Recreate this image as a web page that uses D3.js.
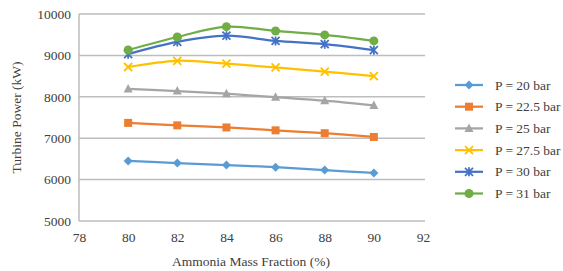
<!DOCTYPE html>
<html>
<head>
<meta charset="utf-8">
<script src="https://cdn.jsdelivr.net/npm/d3@7"></script>
<style>
  body { margin: 0; background: #fff; }
</style>
</head>
<body>
<div id="chart"></div>
<script>
var fractions = [80, 82, 84, 86, 88, 90];
var seriesNames = ["P = 20 bar", "P = 22.5 bar", "P = 25 bar", "P = 27.5 bar", "P = 30 bar", "P = 31 bar"];
var p20 = [6450, 6400, 6350, 6300, 6230, 6160];
var p225 = [7370, 7310, 7260, 7190, 7120, 7030];
var p25 = [8190, 8140, 8075, 7990, 7905, 7790];
var p275 = [8720, 8870, 8800, 8710, 8610, 8500];
var p30 = [9030, 9325, 9475, 9350, 9270, 9125];
var p31 = [9130, 9445, 9695, 9590, 9495, 9350];
var xTicks = [78, 80, 82, 84, 86, 88, 90, 92];
var yTicks = [5000, 6000, 7000, 8000, 9000, 10000];
var colors = ["#5B9BD5", "#ED7D31", "#A5A5A5", "#FFC000", "#4472C4", "#70AD47"];
var markers = ["diamond", "square", "triangle", "x", "star", "circle"];

var allValues = [p20, p225, p25, p275, p30, p31];

var FONT = "Liberation Serif";
var totalWidth = 563, totalHeight = 271;
var margin = {top: 14, left: 79, right: 138, bottom: 50};

var svg = d3.select("#chart").append("svg")
    .attr("width", totalWidth)
    .attr("height", totalHeight)
    .attr("font-family", FONT);
var g = svg.append("g")
    .attr("transform", "translate(" + margin.left + "," + margin.top + ")");

var x = d3.scaleLinear().domain([78, 92]).range([0, 344]);
var y = d3.scaleLinear().domain([5000, 10000]).range([207, 0]);

// gridlines
g.append("g").selectAll("line")
    .data(yTicks)
    .enter().append("line")
    .attr("x1", 0).attr("x2", x(92) + 2)
    .attr("y1", function(d){ return y(d); })
    .attr("y2", function(d){ return y(d); })
    .attr("stroke", "#BDBDBD")
    .attr("stroke-width", 1.5);

g.append("line")
    .attr("x1", 0).attr("x2", 0)
    .attr("y1", y(10000)).attr("y2", y(5000))
    .attr("stroke", "#BDBDBD")
    .attr("stroke-width", 1.5);

// axes
var yAxis = d3.axisLeft(y).tickValues(yTicks).tickSize(0).tickPadding(8).tickFormat(d3.format("d"));
var xAxis = d3.axisBottom(x).tickValues(xTicks).tickSize(0).tickPadding(11).tickFormat(d3.format("d"));
var ya = g.append("g").call(yAxis);
var xa = g.append("g").attr("transform", "translate(0," + y(5000) + ")").call(xAxis);
[ya, xa].forEach(function(a){
    a.attr("font-family", FONT).attr("font-size", 13.5);
    a.select(".domain").remove();
    a.selectAll("text").attr("fill", "#404040");
});

svg.append("text")
    .attr("x", margin.left + x(85))
    .attr("y", 266)
    .attr("text-anchor", "middle")
    .attr("font-size", 13.5)
    .attr("fill", "#404040")
    .text("Ammonia Mass Fraction (%)");

svg.append("text")
    .attr("transform", "translate(21," + (margin.top + y(7500)) + ") rotate(-90)")
    .attr("text-anchor", "middle")
    .attr("font-size", 13.5)
    .attr("fill", "#404040")
    .text("Turbine Power (kW)");

function drawMarker(sel, type, color) {
    if (type === "circle") {
        sel.append("circle").attr("r", 4.5).attr("fill", color);
    } else if (type === "square") {
        sel.append("rect").attr("x", -4).attr("y", -4).attr("width", 8).attr("height", 8).attr("fill", color);
    } else if (type === "diamond") {
        sel.append("path").attr("d", "M0,-4.5L4.5,0L0,4.5L-4.5,0Z").attr("fill", color);
    } else if (type === "triangle") {
        sel.append("path").attr("d", "M0,-5L4.5,3.5L-4.5,3.5Z").attr("fill", color);
    } else if (type === "x") {
        sel.append("path").attr("d", "M-4,-4L4,4M4,-4L-4,4").attr("stroke", color).attr("stroke-width", 1.8).attr("fill", "none");
    } else if (type === "star") {
        sel.append("path").attr("d", "M-4,-4L4,4M4,-4L-4,4M0,-4.5L0,4.5").attr("stroke", color).attr("stroke-width", 1.8).attr("fill", "none");
    }
}

var line = d3.line()
    .x(function(d){ return x(d.x); })
    .y(function(d){ return y(d.y); })
    .curve(d3.curveCatmullRom.alpha(0.5));

allValues.forEach(function(vals, i){
    var pts = fractions.map(function(f, j){ return {x: f, y: vals[j]}; });
    g.append("path")
        .attr("d", line(pts))
        .attr("fill", "none")
        .attr("stroke", colors[i])
        .attr("stroke-width", 2.25);
    g.append("g").selectAll("g")
        .data(pts)
        .enter().append("g")
        .attr("transform", function(d){ return "translate(" + x(d.x) + "," + y(d.y) + ")"; })
        .each(function(){ drawMarker(d3.select(this), markers[i], colors[i]); });
});

// legend
var legend = svg.append("g").attr("transform", "translate(455,85)");
seriesNames.forEach(function(name, i){
    var row = legend.append("g").attr("transform", "translate(0," + (i * 21.7) + ")");
    row.append("line").attr("x1", 0).attr("x2", 28).attr("y1", 0).attr("y2", 0)
        .attr("stroke", colors[i]).attr("stroke-width", 2.25);
    drawMarker(row.append("g").attr("transform", "translate(14,0)"), markers[i], colors[i]);
    row.append("text").attr("x", 40).attr("y", 4.5)
        .attr("font-size", 13.5)
        .attr("fill", "#404040")
        .text(name);
});
</script>
</body>
</html>
